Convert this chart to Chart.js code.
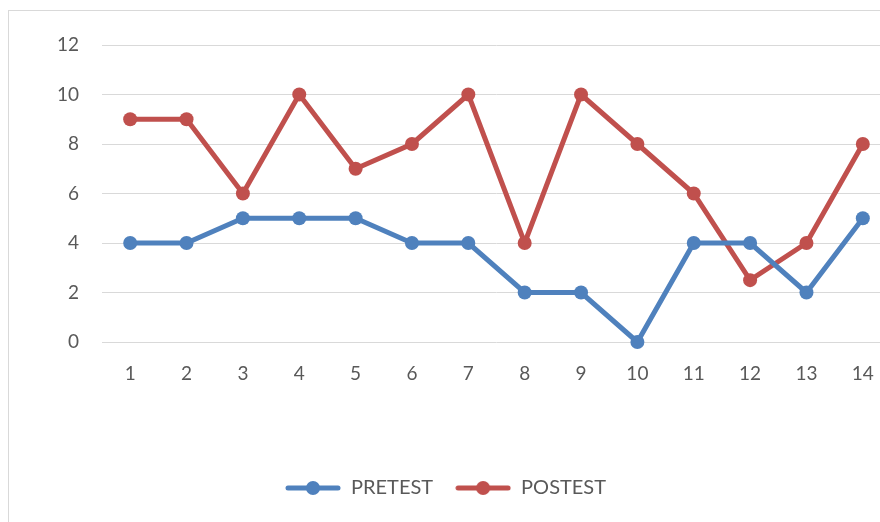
<!DOCTYPE html>
<html>
<head>
<meta charset="utf-8">
<script src="https://cdn.jsdelivr.net/npm/chart.js@4"></script>
<style>
  html, body { margin: 0; padding: 0; background: #fff; overflow: hidden; }
  #frame { position: absolute; left: 8px; top: 10px; width: 900px; height: 600px; border: 1px solid #d9d9d9; }
  #wrap { position: absolute; left: 0; top: 0; width: 900px; height: 522px; }
</style>
</head>
<body>
<div id="frame"></div>
<div id="wrap"><canvas id="chart"></canvas></div>
<script>
const categories = ['1', '2', '3', '4', '5', '6', '7', '8', '9', '10', '11', '12', '13', '14'];
const pretest = [4, 4, 5, 5, 5, 4, 4, 2, 2, 0, 4, 4, 2, 5];
const postest = [9, 9, 6, 10, 7, 8, 10, 4, 10, 8, 6, 2.5, 4, 8];
const yTicks = [0, 2, 4, 6, 8, 10, 12];

const blue = '#4f81bd';
const red = '#c0504d';

// legend marker: short line with a dot
function legendMarker(color) {
    const c = document.createElement('canvas');
    c.width = 56; c.height = 16;
    const g = c.getContext('2d');
    g.strokeStyle = color;
    g.lineWidth = 5;
    g.lineCap = 'round';
    g.beginPath(); g.moveTo(3, 8); g.lineTo(53, 8); g.stroke();
    g.fillStyle = color;
    g.beginPath(); g.arc(28, 8, 7, 0, Math.PI * 2); g.fill();
    return c;
}

const ctx = document.getElementById('chart').getContext('2d');
new Chart(ctx, {
    type: 'line',
    data: {
        labels: categories,
        datasets: [{
            label: 'PRETEST',
            data: pretest,
            borderColor: blue,
            backgroundColor: blue,
            borderWidth: 5,
            pointRadius: 7,
            pointBackgroundColor: blue,
            pointBorderWidth: 0,
            tension: 0,
            clip: false
        }, {
            label: 'POSTEST',
            data: postest,
            borderColor: red,
            backgroundColor: red,
            borderWidth: 5,
            pointRadius: 7,
            pointBackgroundColor: red,
            pointBorderWidth: 0,
            tension: 0,
            clip: false
        }]
    },
    options: {
        responsive: true,
        maintainAspectRatio: false,
        animation: false,
        layout: { padding: { top: 45, right: 9, bottom: 14, left: 0 } },
        plugins: {
            tooltip: { enabled: false },
            legend: {
                position: 'bottom',
                labels: {
                    usePointStyle: true,
                    pointStyleWidth: 56,
                    padding: 22,
                    color: '#595959',
                    font: { family: 'Lato', size: 20 },
                    generateLabels: function(chart) {
                        return chart.data.datasets.map(function(ds, i) {
                            return {
                                text: ds.label,
                                pointStyle: legendMarker(ds.borderColor),
                                fillStyle: ds.borderColor,
                                strokeStyle: ds.borderColor,
                                lineWidth: 0,
                                fontColor: '#595959',
                                datasetIndex: i
                            };
                        });
                    }
                }
            }
        },
        scales: {
            x: {
                offset: true,
                grid: { display: false, drawTicks: false },
                border: { display: false },
                ticks: { color: '#595959', font: { family: 'Lato', size: 19 }, padding: 20, maxRotation: 0 },
                afterFit: function(scale) { scale.height = 114; }
            },
            y: {
                min: 0,
                max: 12,
                afterBuildTicks: function(scale) { scale.ticks = yTicks.map(v => ({ value: v })); },
                grid: { color: '#d9d9d9', lineWidth: 1, drawTicks: false },
                border: { display: false },
                ticks: { color: '#595959', font: { family: 'Lato', size: 19 }, padding: 23 },
                afterFit: function(scale) { scale.width = 102; }
            }
        }
    }
});
</script>
</body>
</html>
